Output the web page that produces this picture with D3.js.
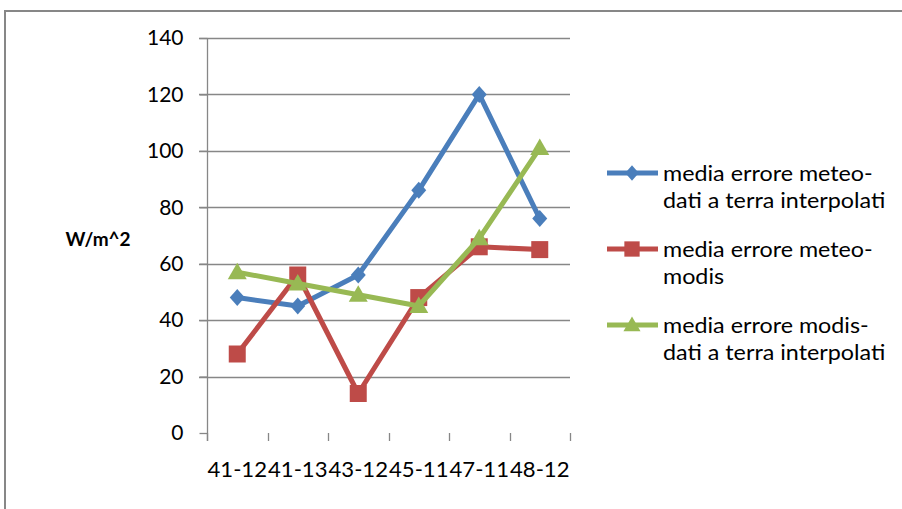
<!DOCTYPE html>
<html>
<head>
<meta charset="utf-8">
<script src="https://cdn.jsdelivr.net/npm/d3@7/dist/d3.min.js"></script>
<style>
  html, body { margin: 0; padding: 0; background: #fff; }
  svg { display: block; }
  text { font-family: Lato, "Open Sans", sans-serif; fill: #000; }
</style>
</head>
<body>
<svg id="chart" width="902" height="509"></svg>
<script>
// Stations (x categories) and the three mean-error series, in W/m^2
const categories = ["41-12", "41-13", "43-12", "45-11", "47-11", "48-12"];
const meteoDati  = [48, 45, 56, 86, 120, 76];
const meteoModis = [28, 56, 14, 48, 66, 65];
const modisDati  = [57, 53, 49, 45, 69, 101];
const yTicks = [0, 20, 40, 60, 80, 100, 120, 140];
const seriesNames = [
  ["media errore meteo-", "dati a terra interpolati"],
  ["media errore meteo-", "modis"],
  ["media errore modis-", "dati a terra interpolati"]
];
const yLabel = "W/m^2";

const series = [
  { name: seriesNames[0], values: meteoDati,  color: "#4a7ebb", marker: "diamond" },
  { name: seriesNames[1], values: meteoModis, color: "#be4b48", marker: "square" },
  { name: seriesNames[2], values: modisDati,  color: "#98b954", marker: "triangle" }
];

const svg = d3.select("#chart");
const gridColor = "#878787";

// outer frame (left and top edges)
svg.append("path")
  .attr("d", "M5,509V11H902")
  .attr("fill", "none")
  .attr("stroke", gridColor)
  .attr("stroke-width", 2);

const x = d3.scaleBand().domain(categories).range([207, 570]);
const y = d3.scaleLinear().domain([0, 140]).range([433, 38]);

// horizontal gridlines
svg.append("g").selectAll("line")
  .data(yTicks.filter(t => t > 0))
  .join("line")
  .attr("x1", 199).attr("x2", 570)
  .attr("y1", d => Math.round(y(d)) + 0.5).attr("y2", d => Math.round(y(d)) + 0.5)
  .attr("stroke", gridColor).attr("stroke-width", 1.3);

// y axis
const yAxis = d3.axisLeft(y).tickValues(yTicks).tickSize(8).tickPadding(16);
const gy = svg.append("g").attr("transform", "translate(207.5,0)").call(yAxis);
gy.select(".domain").attr("d", "M0,38V441").attr("stroke", gridColor).attr("stroke-width", 1.3);
gy.selectAll(".tick line").attr("stroke", gridColor).attr("stroke-width", 1.3);
gy.selectAll(".tick text").attr("font-size", 21).attr("font-family", "Lato, sans-serif").attr("fill", "#000");

// x axis: tick marks at category boundaries, no baseline
const bounds = categories.map(c => x(c)).concat([x.range()[1]]);
svg.append("g").selectAll("line")
  .data(bounds)
  .join("line")
  .attr("x1", d => Math.round(d) + 0.5).attr("x2", d => Math.round(d) + 0.5)
  .attr("y1", 433).attr("y2", 441)
  .attr("stroke", gridColor).attr("stroke-width", 1.3);

svg.append("g").selectAll("text")
  .data(categories)
  .join("text")
  .attr("x", d => x(d) + x.bandwidth() / 2)
  .attr("y", 477)
  .attr("text-anchor", "middle")
  .attr("font-size", 21)
  .attr("textLength", x.bandwidth() - 1)
  .attr("lengthAdjust", "spacingAndGlyphs")
  .text(d => d);

// y axis title
svg.append("text")
  .attr("x", 98).attr("y", 246)
  .attr("text-anchor", "middle")
  .attr("font-size", 19)
  .attr("font-weight", "bold")
  .text(yLabel);

// marker shapes
function markerPath(type, k = 1) {
  if (type === "diamond") return `M0,${-8.5 * k}L${7.5 * k},0L0,${8.5 * k}L${-7.5 * k},0Z`;
  if (type === "square") return `M${-8.5 * k},${-8.5 * k}H${8.5 * k}V${8.5 * k}H${-8.5 * k}Z`;
  return `M0,${-9.5 * k}L${9.5 * k},${7 * k}H${-9.5 * k}Z`;
}

const line = d3.line()
  .x((d, i) => x(categories[i]) + x.bandwidth() / 2)
  .y(d => y(d));

series.forEach(s => {
  const g = svg.append("g");
  g.append("path")
    .attr("d", line(s.values))
    .attr("fill", "none")
    .attr("stroke", s.color)
    .attr("stroke-width", 5)
    .attr("stroke-linejoin", "round");
  g.selectAll("path.m")
    .data(s.values)
    .join("path")
    .attr("class", "m")
    .attr("transform", (d, i) => `translate(${x(categories[i]) + x.bandwidth() / 2},${y(d)})`)
    .attr("d", markerPath(s.marker))
    .attr("fill", s.color);
});

// legend
const legendY = [173, 249, 325];
series.forEach((s, i) => {
  const g = svg.append("g").attr("transform", `translate(0,${legendY[i]})`);
  g.append("line")
    .attr("x1", 607).attr("x2", 658)
    .attr("stroke", s.color).attr("stroke-width", 5);
  g.append("path")
    .attr("transform", "translate(632,0)")
    .attr("d", markerPath(s.marker, 0.9))
    .attr("fill", s.color);
  s.name.forEach((t, j) => {
    g.append("text")
      .attr("transform", `translate(663,${8 + j * 27}) scale(1.11,1)`)
      .attr("font-size", 21)
      .text(t);
  });
});
</script>
</body>
</html>
